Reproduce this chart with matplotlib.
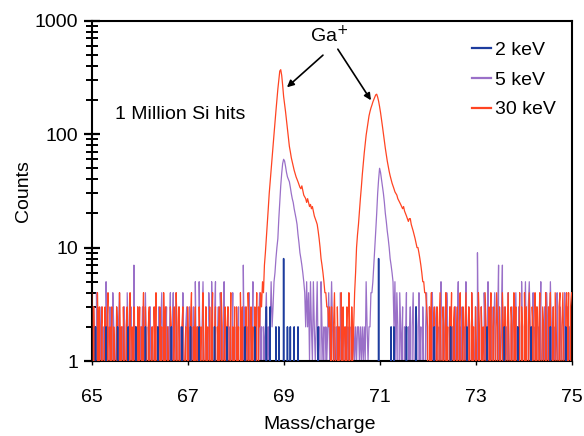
import numpy as np
import matplotlib
matplotlib.use("Agg")
import matplotlib.pyplot as plt
from matplotlib.ticker import LogLocator, FixedLocator, NullFormatter, FixedFormatter

plt.rcParams['font.family'] = ['Liberation Sans', 'DejaVu Sans']

# mass channels: 65.00 .. 75.00 in steps of 0.02
mass = np.round(np.linspace(65.0, 75.0, 501), 2)

counts_30kev = [
    4,0,3,1,2,0,4,1,3,0, 2,3,0,1,3,0,2,4,0,2, 1,3,0,2,1,0,3,2,0,4, 1,2,0,3,1,0,2,3,0,1, 4,0,2,1,3,0,2,0,3,1,
    3,0,2,1,4,0,3,1,0,2, 3,0,1,2,0,3,1,4,0,2, 0,3,1,2,0,4,1,3,0,2, 1,0,3,2,0,1,3,0,4,2, 0,3,1,0,2,3,0,1,2,0,
    3,1,0,2,4,0,2,1,3,0, 2,0,3,1,2,0,4,1,0,3, 1,2,0,3,0,2,4,0,1,3, 0,2,1,3,0,4,2,0,1,3, 0,2,3,0,1,4,0,2,1,3,
    0,3,1,2,0,4,1,3,0,2, 1,3,0,4,2,0,3,1,2,0, 3,1,4,0,3,2,4,3,5,4, 7,9,12,16,22,30,38,48,60,78,
    100,128,160,200,250,300,360,370,330,270,
    215,185,158,132,110,92,78,70,62,57, 52,48,45,42,40,38,36,34,33,35, 32,29,28,27,25,27,25,23,24,22,
    23,21,19,18,17,16,14,12,10,8, 7,6,5,4,4,3,3,2,3,1,
    3,0,2,4,1,0,3,1,2,0, 4,1,3,0,2,1,3,0,4,2, 0,3,1,2,4,6,10,13,16,21, 27,34,44,55,68,82,98,112,128,145,
    158,170,180,192,202,212,222,225,212,195,
    175,155,135,117,100,87,75,66,58,52, 47,43,40,37,35,33,31,30,29,27, 26,25,24,23,22,23,21,20,19,18,
    17,18,18,16,15,14,13,12,11,10, 10,9,8,7,6,5,5,4,4,3,
    2,0,3,1,4,0,2,3,0,1, 3,0,2,4,1,0,3,2,0,4, 1,2,0,3,1,4,0,2,3,0, 1,3,0,2,4,0,1,3,0,2, 4,1,0,3,2,0,4,1,2,0,
    3,1,0,4,2,0,3,1,2,0, 4,2,1,0,3,1,4,0,2,3, 0,1,4,2,0,3,1,0,4,2, 1,3,0,2,4,1,0,3,2,0, 4,1,3,0,2,1,4,0,3,2,
    0,4,1,3,0,2,4,1,0,3, 2,0,4,1,3,0,2,4,0,1, 3,2,0,4,1,0,3,2,4,0, 1,3,0,4,2,1,0,3,4,0, 2,4,1,0,3,4,1,4,0,3,
    4,
]

counts_5kev = [
    2,0,3,1,0,4,1,0,2,1, 3,0,2,1,0,5,1,2,0,3, 1,0,4,2,0,1,3,0,2,4, 0,1,2,0,3,1,0,4,2,1, 0,3,1,0,7,1,2,0,3,1,
    0,2,1,3,0,2,4,1,0,2, 1,3,0,2,1,0,3,2,0,1, 3,0,2,4,1,0,2,1,3,0, 2,1,4,0,1,4,0,2,4,1, 0,3,1,2,0,4,1,0,2,3,
    1,0,3,2,0,1,3,0,5,1, 2,0,5,1,0,2,5,1,0,3, 1,0,4,2,0,5,1,0,2,5, 0,1,3,0,4,2,0,1,5,0, 2,1,3,0,2,0,1,4,0,2,
    0,2,1,3,0,1,2,0,7,1, 3,0,2,1,4,0,2,1,5,0, 2,1,3,0,2,4,1,2,0,2, 1,2,4,1,2,0,2,5,2,3, 5,6,8,10,12,18,25,35,45,55,
    60,58,52,46,42,40,38,34,30,27, 25,22,20,18,16,13,11,9,8,7, 6,5,4,2,5,2,4,1,5,2, 1,5,2,1,2,5,1,2,0,5, 2,1,2,0,2,1,2,4,1,2,
    5,2,1,2,0,2,1,2,0,4, 2,1,2,0,2,1,0,2,1,2, 0,2,1,2,1,2,1,2,2,1, 2,1,2,1,2,1,5,2,1,2, 2,4,4,5,7,10,14,20,30,40,
    50,46,40,35,30,25,20,17,14,12, 10,8,7,6,5,2,5,1,4,2, 0,4,2,1,3,0,2,1,4,0, 2,1,3,0,2,4,1,0,3,2, 0,4,1,2,0,3,1,0,2,4,
    1,0,3,2,0,4,1,0,2,3, 1,0,2,1,5,0,2,3,1,0, 4,2,0,1,3,0,2,1,0,3, 1,2,5,0,2,1,3,0,2,1, 5,0,2,3,1,0,4,2,0,1,
    3,0,9,1,2,0,3,1,0,4, 2,0,1,5,0,2,1,3,0,2, 4,1,0,2,7,0,1,2,7,0, 3,1,2,0,4,1,0,2,3,1, 0,2,4,1,0,3,2,0,5,1,
    0,2,5,1,0,3,5,2,0,1, 4,0,2,1,3,0,2,1,5,0, 2,1,3,0,4,2,0,1,5,2, 0,3,1,2,0,4,1,0,3,2, 1,0,2,4,0,1,3,0,2,1,
    2,
]

counts_2kev = [
    0,0,0,0,2,0,0,0,0,0, 0,0,0,0,0,2,0,0,0,0, 0,0,0,0,0,0,0,2,0,0, 0,0,0,0,0,0,0,0,2,0, 0,0,0,0,0,0,2,0,0,0,
    0,0,0,0,0,0,2,0,0,0, 0,0,0,0,0,0,0,0,0,2, 0,0,0,0,0,0,0,0,0,0, 0,0,0,2,0,0,0,0,0,0, 0,0,0,0,2,0,0,0,0,0,
    0,0,0,2,0,0,0,0,0,0, 0,0,2,0,0,0,0,0,0,0, 0,0,0,0,0,0,0,0,2,0, 0,0,0,0,0,0,0,0,0,0, 0,2,0,0,0,0,0,0,0,0,
    0,0,0,0,0,0,0,0,0,0, 2,0,0,0,0,0,0,0,0,0, 2,0,0,0,0,0,0,0,0,0, 0,0,3,0,0,0,3,0,0,0, 0,0,2,0,0,2,0,0,0,0,
    8,0,0,0,2,0,0,2,0,0, 0,2,0,0,0,2,0,0,0,0, 0,0,0,0,0,0,0,0,0,0, 0,0,0,0,0,0,2,0,0,0, 0,0,0,0,0,0,0,0,0,0,
    0,0,0,0,0,0,0,0,0,0, 0,0,0,0,0,0,0,0,0,0, 0,0,0,0,0,0,0,0,0,0, 0,0,0,0,0,0,0,0,0,0, 0,0,0,0,0,0,0,0,0,8,
    0,0,0,0,0,0,0,0,0,0, 0,0,2,0,0,2,0,0,0,0, 0,0,0,0,0,0,0,0,2,0, 0,0,0,0,0,0,0,0,3,0, 0,0,0,0,0,0,0,0,0,0,
    0,0,0,0,0,0,0,2,0,0, 0,0,0,0,0,0,0,0,0,0, 0,0,0,0,2,0,0,0,0,0, 0,0,0,0,0,0,0,0,0,0, 0,2,0,0,0,0,0,0,0,0,
    0,0,0,0,0,0,0,0,0,0, 0,0,2,0,0,0,0,0,0,0, 0,0,0,0,0,0,0,0,0,0, 2,0,0,0,0,0,0,0,0,0, 0,0,0,0,2,0,0,0,0,0,
    0,0,0,0,0,0,0,0,2,0, 0,0,0,0,0,0,0,0,0,0, 0,0,0,0,0,0,0,0,2,0, 0,0,0,0,0,0,0,0,0,0, 0,0,0,0,2,0,0,0,0,0,
    0,
]

series_labels = ["2 keV", "5 keV", "30 keV"]
series_colors = ["#1d3c9e", "#9a70c8", "#ff4422"]
x_ticks = [65, 67, 69, 71, 73, 75]
y_ticks = [1, 10, 100, 1000]

fig = plt.figure(figsize=(5.84, 4.36), dpi=100)
ax = fig.add_axes([0.157, 0.172, 0.8216, 0.7805])
ax.set_yscale('log', nonpositive='clip')

l5, = ax.plot(mass, counts_5kev, color=series_colors[1], lw=0.9, zorder=2)
l30, = ax.plot(mass, counts_30kev, color=series_colors[2], lw=0.9, zorder=3)
l2, = ax.plot(mass, counts_2kev, color=series_colors[0], lw=1.1, zorder=4)

ax.set_xlim(65, 75)
ax.set_ylim(1, 1000)

ax.xaxis.set_major_locator(FixedLocator(x_ticks))
ax.xaxis.set_major_formatter(FixedFormatter([str(t) for t in x_ticks]))
ax.yaxis.set_major_locator(FixedLocator(y_ticks))
ax.yaxis.set_major_formatter(FixedFormatter([str(t) for t in y_ticks]))
ax.yaxis.set_minor_locator(LogLocator(base=10, subs=np.arange(2, 10)))
ax.yaxis.set_minor_formatter(NullFormatter())

ax.tick_params(axis='y', which='major', direction='inout', length=11, width=1.6,
               labelsize=14, pad=4)
ax.tick_params(axis='y', which='minor', direction='inout', length=8, width=1.4)
ax.tick_params(axis='x', which='major', direction='out', length=3, width=1.0,
               labelsize=14, pad=17)
for s in ax.spines.values():
    s.set_linewidth(1.5)
    s.set_color('black')

ax.set_ylabel("Counts", fontsize=14)
ax.set_xlabel("Mass/charge", fontsize=14)
ax.yaxis.set_label_coords(-0.125, 0.5)
ax.xaxis.set_label_coords(0.475, -0.163)

leg = ax.legend([l2, l5, l30], series_labels, loc='upper left',
                bbox_to_anchor=(0.7926, 0.940), frameon=False, fontsize=14,
                handlelength=1.0, handletextpad=0.2, labelspacing=0.63,
                borderaxespad=0, borderpad=0)
for h in leg.legend_handles:
    h.set_linewidth(1.6)

ax.text(65.49, 150, "1 Million Si hits", fontsize=14, ha='left', va='center')
ax.text(69.95, 730, "Ga$^{+}$", fontsize=14, ha='center', va='center')
ax.annotate("", xy=(69.07, 259), xytext=(69.82, 497),
            arrowprops=dict(arrowstyle='-|>', color='black', lw=1.2,
                            mutation_scale=10, shrinkA=0, shrinkB=0))
ax.annotate("", xy=(70.82, 199), xytext=(70.13, 561),
            arrowprops=dict(arrowstyle='-|>', color='black', lw=1.2,
                            mutation_scale=10, shrinkA=0, shrinkB=0))

fig.savefig("out.png", dpi=100)
